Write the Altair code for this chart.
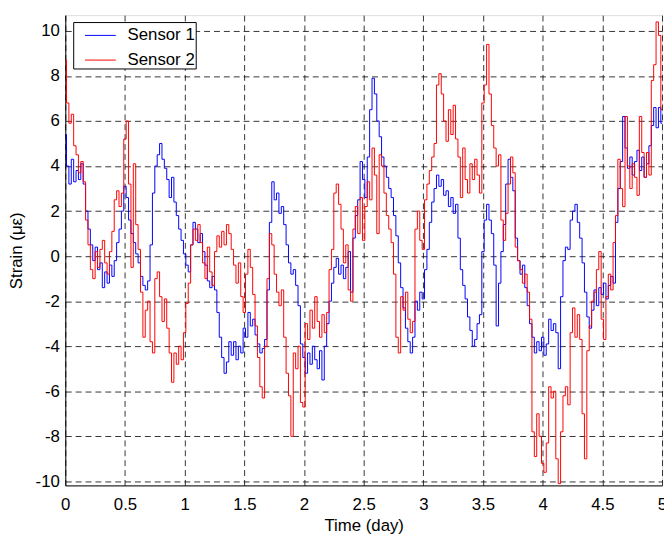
import altair as alt
import pandas as pd

# sampling instants (days) - one reading every 0.02 day
time_days = [round(i * 0.02, 2) for i in range(251)]

sensor1 = [
    5.4, 4.0, 3.2, 4.3, 3.3, 3.8, 3.4, 4.1, 3.2, 2.0,
    1.2, 0.5, -0.2, 0.4, -0.6, -0.3, -1.4, -0.7, -1.2, -0.4,
    -0.9, -0.2, 0.6, 1.2, 2.0, 3.1, 2.6, 1.6, 1.0, 0.6,
    0.1, -0.3, -0.9, -1.3, -1.5, -1.1, 0.5, 2.8, 4.0, 4.5,
    5.0, 4.3, 3.9, 3.4, 2.6, 3.5, 2.4, 1.8, 1.2, 0.7,
    0.1, -0.4, -0.7, 0.5, 1.5, 1.2, 0.6, 1.0, 0.2, -0.4,
    -1.1, -1.4, -0.9, -1.5, -2.5, -3.6, -4.5, -5.2, -4.7, -3.8,
    -4.4, -3.8, -4.6, -4.0, -4.3, -3.2, -3.6, -2.5, -3.1, -2.8,
    -3.5, -3.9, -4.3, -4.1, -3.7, -1.5, 1.5, 3.3, 2.5, 2.8,
    1.9, 2.2, 1.4, 0.5, -0.3, -0.8, -0.6, -1.3, -2.2, -3.9,
    -4.5, -5.2, -4.3, -4.8, -4.0, -4.6, -5.0, -4.2, -5.5, -4.0,
    -3.0, -2.0, -1.2, -0.5, -0.1, -0.8, -0.4, -1.0, -0.5, 0.2,
    -1.6, 0.8, 1.8, 2.5, 4.2, 3.4, 2.6, 4.4, 6.5, 7.9,
    7.2, 6.0, 5.3, 4.4, 4.0, 3.5, 3.0, 2.6, 1.8, 0.9,
    -0.3, -1.4, -2.3, -3.2, -3.8, -4.3, -3.6, -2.0, -2.4, -1.6,
    -1.9, -0.6, 0.3, 1.5, 2.4, 3.0, 3.6, 3.1, 3.4, 2.7,
    2.9, 2.2, 2.6, 1.9, 2.3, 0.8, -0.6, -1.3, -1.9, -2.7,
    -3.3, -4.0, -3.7, -3.0, -2.6, 0.2, 1.6, 2.3, 1.6, 1.0,
    -0.4, -3.1, -1.2, 0.2, 1.4, 3.2, 4.3, 3.5, 2.9, 0.8,
    -0.2, -0.8, -0.4, -1.4, -2.2, -3.0, -3.6, -4.3, -3.8, -4.2,
    -3.6, -4.4, -3.9, -2.8, -3.3, -3.0, -3.4, -5.0, -1.8, -0.2,
    0.4, 0.3, 1.6, 2.0, 2.3, 1.5, 0.8, -0.3, -1.6, -2.7,
    -3.2, -2.4, -1.5, -2.2, -1.4, -1.7, -1.2, -1.9, -1.3, -0.9,
    -1.2, 1.5, 3.0, 4.2, 6.2, 4.8, 3.9, 4.4, 3.6, 4.2,
    4.7, 3.8, 4.4, 3.5, 4.1, 4.9, 5.8, 6.6, 5.7, 6.6,
    5.9,
]

sensor2 = [
    8.7, 6.8, 5.9, 6.3, 4.9, 4.5, 3.7, 4.2, 3.3, 1.6,
    0.5, -0.6, -1.0, 0.2, -0.5, 0.3, 0.7, -0.3, -0.8, 0.2,
    1.1, 2.5, 2.9, 2.2, 2.8, 5.2, 6.0, 3.2, -0.5, 4.1,
    1.4, 0.3, -1.6, -3.6, -2.4, -2.0, -3.8, -4.3, -1.0, -0.7,
    -1.8, -2.9, -1.9, -3.2, -4.3, -5.6, -4.3, -4.8, -4.0, -4.6,
    -3.4, -2.1, -1.2, 0.5, 1.2, 0.7, 1.4, 0.6, -0.3, -1.0,
    0.4, -0.7, -1.3, 0.2, 0.9, 0.4, 1.1, 0.5, 1.4, 1.0,
    0.3, -0.4, -1.2, -0.3, -1.8, -2.5, -0.8, 0.3, -0.5, -1.7,
    -3.1, -4.5, -5.8, -6.3, -4.0, -1.0, 1.0, 0.5, -0.8, -1.6,
    -2.2, -1.5, -3.6, -5.2, -6.2, -8.0, -4.3, -5.0, -4.0, -6.5,
    -6.7, -3.0, -3.7, -2.4, -3.2, -1.8, -2.9, -3.6, -2.6, -3.4,
    -2.5, -0.6, 0.3, 2.8, 3.2, 2.3, 1.2, -0.3, 0.5, -1.5,
    -2.0, 1.2, 2.2, 1.0, 2.6, 0.7, 2.2, 3.3, 2.5, 4.8,
    3.6, 1.0, 4.5, 4.0, 2.8, 1.8, 1.2, 0.6, -0.8, -3.6,
    -4.3, -1.8, -2.4, -1.6, -2.8, -3.4, -2.9, 1.2, 2.0, 0.7,
    0.3, 2.5, 3.2, 3.8, 4.4, 5.0, 7.6, 8.1, 7.2, 6.0,
    5.1, 6.5, 5.4, 6.7, 5.2, 4.4, 2.6, 4.8, 3.4, 2.8,
    4.1, 3.4, 4.3, 3.6, 2.8, 6.8, 7.6, 9.4, 7.2, 5.8,
    4.8, 4.0, 4.5, 1.6, 0.7, 1.9, 3.2, 4.4, 3.7, 0.4,
    -0.2, -0.6, -1.2, -0.8, -1.6, -2.8, -7.8, -8.9, -7.0, -8.0,
    -9.2, -9.6, -8.3, -5.8, -6.3, -6.0, -9.0, -10.1, -7.8, -6.2,
    -5.8, -6.6, -3.4, -2.3, -3.6, -2.6, -3.7, -7.0, -9.0, -4.2,
    -3.1, -2.0, -1.6, -0.6, 0.2, -2.8, -3.7, -1.8, -0.8, -1.5,
    0.6, 1.8, 4.3, 3.0, 2.2, 6.2, 4.0, 3.0, 4.1, 3.5,
    2.7, 6.2, 4.6, 3.5, 4.6, 3.6, 7.8, 8.5, 10.4, 9.8,
    6.5,
]

series_names = ["Sensor 1", "Sensor 2"]
series_colors = ["#0000ff", "#ff0000"]
x_ticks = [0, 0.5, 1, 1.5, 2, 2.5, 3, 3.5, 4, 4.5, 5]
y_ticks = [-10, -8, -6, -4, -2, 0, 2, 4, 6, 8, 10]

df = pd.DataFrame({
    "Time": time_days + time_days,
    "Strain": sensor1 + sensor2,
    "Series": [series_names[0]] * len(sensor1) + [series_names[1]] * len(sensor2),
})

FONT = "Liberation Sans"

axis_common = dict(
    grid=True,
    gridDash=[6, 4],
    gridColor="#000000",
    gridOpacity=0.8,
    gridWidth=1,
    ticks=False,
    domainColor="#000000",
    domainWidth=1,
    labelFont=FONT,
    labelFontSize=17,
    labelColor="#000000",
    titleFont=FONT,
    titleFontSize=17,
    titleFontWeight="normal",
    titleColor="#000000",
    labelExpr="datum.value + ''",
)

chart = alt.Chart(df).mark_line(strokeWidth=1, clip=True, interpolate="step").encode(
    x=alt.X(
        "Time:Q",
        scale=alt.Scale(domain=[0, 5], nice=False, zero=False),
        axis=alt.Axis(title="Time (day)", values=x_ticks, labelPadding=11,
                      titlePadding=6, labelFlush=False, **axis_common),
    ),
    y=alt.Y(
        "Strain:Q",
        scale=alt.Scale(domain=[-10.18, 10.7], nice=False, zero=False),
        axis=alt.Axis(title="Strain (με)", values=y_ticks, labelPadding=6,
                      titlePadding=10, labelFlush=False, **axis_common),
    ),
    color=alt.Color(
        "Series:N",
        scale=alt.Scale(domain=series_names, range=series_colors),
        legend=alt.Legend(
            title=None,
            orient="none",
            legendX=8,
            legendY=7,
            symbolType="M-1.2,0H1.2",
            symbolSize=676,
            symbolStrokeWidth=1,
            symbolOffset=14,
            labelFont=FONT,
            labelFontSize=17,
            labelColor="#000000",
            labelOffset=14,
            padding=0,
            rowPadding=3,
            strokeColor="#000000",
            fillColor="#ffffff",
        ),
    ),
    order=alt.Order("Time:Q"),
).properties(
    width=604,
    height=476,
    autosize=alt.AutoSizeParams(type="none"),
    padding={"left": 58, "top": 4, "right": 2, "bottom": 49},
).configure_view(
    stroke="#000000",
    strokeWidth=1,
).configure(background="#ffffff")

chart.save("out.html", embed_options={"renderer": "svg", "actions": False})
